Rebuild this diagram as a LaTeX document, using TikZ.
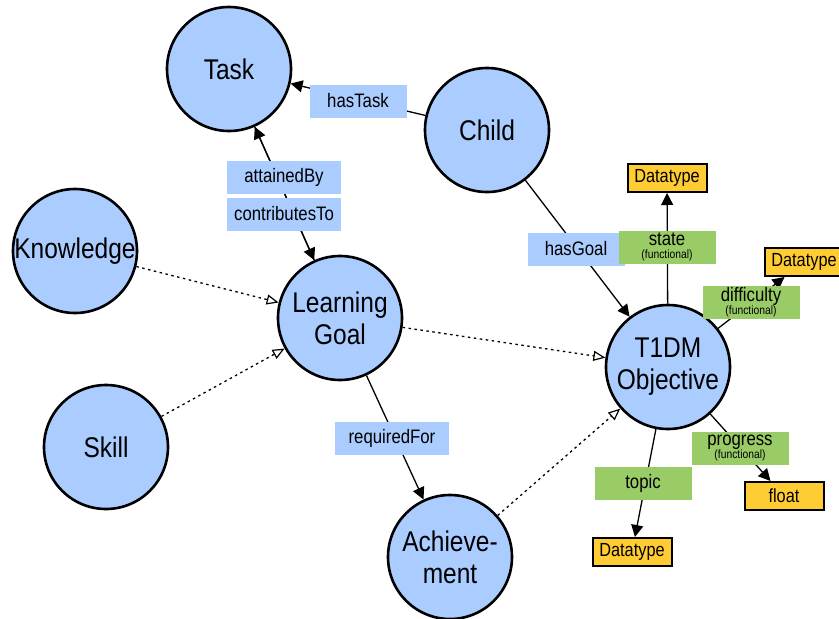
\documentclass[tikz,border=0pt]{standalone}
\usepackage{fontspec}
\setmainfont{Liberation Sans}[FakeStretch=0.86]
\usetikzlibrary{arrows.meta}

\definecolor{classblue}{HTML}{AACCFF}
\definecolor{propgreen}{HTML}{99CC66}
\definecolor{dtyellow}{HTML}{FFCC33}

\tikzset{
  cls/.style={circle, draw, line width=2.6pt, fill=classblue, minimum size=124pt,
    inner sep=0pt, align=center, font=\fontsize{28.5}{32}\selectfont},
  objlbl/.style={fill=classblue, minimum width=97pt, minimum height=33pt, inner sep=0pt,
    font=\fontsize{19.5}{22}\selectfont},
  widelbl/.style={objlbl, minimum width=114pt},
  datalbl/.style={fill=propgreen, minimum width=97pt, minimum height=33pt, inner sep=0pt,
    align=center, font=\fontsize{19.5}{22}\selectfont},
  dtype/.style={draw, line width=2pt, fill=dtyellow, minimum width=79pt, minimum height=28pt,
    inner sep=0pt, font=\fontsize{19}{22}\selectfont},
  rel/.style={line width=1.3pt, -{Triangle[length=12pt,width=12pt]}},
  subcls/.style={line width=1.3pt, dash pattern=on 2.5pt off 3.5pt,
    -{Triangle[open,length=12pt,width=10pt,line width=1.2pt]}},
}
\newcommand{\fnl}{\\[-9pt]{\fontsize{12}{13}\selectfont (functional)}}

\begin{document}
\begin{tikzpicture}[x=1pt,y=-1pt]
\useasboundingbox (0,0) rectangle (839,619);

% classes
\node[cls] (task)  at (229,69)  {Task};
\node[cls] (child) at (487,130) {Child};
\node[cls] (know)  at (75,251)  {Knowledge};
\node[cls] (skill) at (106,447) {Skill};
\node[cls] (goal)  at (340,318) {Learning\\Goal};
\node[cls] (ach)   at (450,557) {Achieve-\\ment};
\node[cls] (obj)   at (668,367) {T1DM\\Objective};

% datatypes
\node[dtype] (dtstate) at (667,178) {Datatype};
\node[dtype] (dtdiff)  at (804,262) {Datatype};
\node[dtype] (dtfloat) at (784,496) {float};
\node[dtype] (dttopic) at (632,552) {Datatype};

% object properties
\draw[rel] (child) -- (task);
\draw[rel] (goal) -- (task);
\draw[rel] (task) -- (goal);
\draw[rel] (goal) -- (ach);
\draw[rel] (child) -- (obj);

% subclass links
\draw[subcls] (know) -- (goal);
\draw[subcls] (skill) -- (goal);
\draw[subcls] (goal) -- (obj);
\draw[subcls] (ach) -- (obj);

% datatype properties
\draw[rel] (obj) -- (dtstate);
\draw[rel] (obj) -- (dtdiff);
\draw[rel] (obj) -- (dtfloat);
\draw[rel] (obj) -- (dttopic);

% property labels
\node[objlbl]  (lhastask) at (358,101) {hasTask};
\node[widelbl] (lattain)  at (284,177) {attainedBy};
\node[widelbl] (lcontrib) at (284,214) {contributesTo};
\node[objlbl]  (lhasgoal) at (576,249) {hasGoal};
\node[widelbl] (lreq)     at (392,438) {requiredFor};

\node[datalbl] (lstate)    at (667,247) {state\fnl};
\node[datalbl] (ldiff)     at (751,302) {difficulty\fnl};
\node[datalbl] (lprogress) at (740,448) {progress\fnl};
\node[datalbl] (ltopic)    at (643,483) {topic};
\end{tikzpicture}
\end{document}
